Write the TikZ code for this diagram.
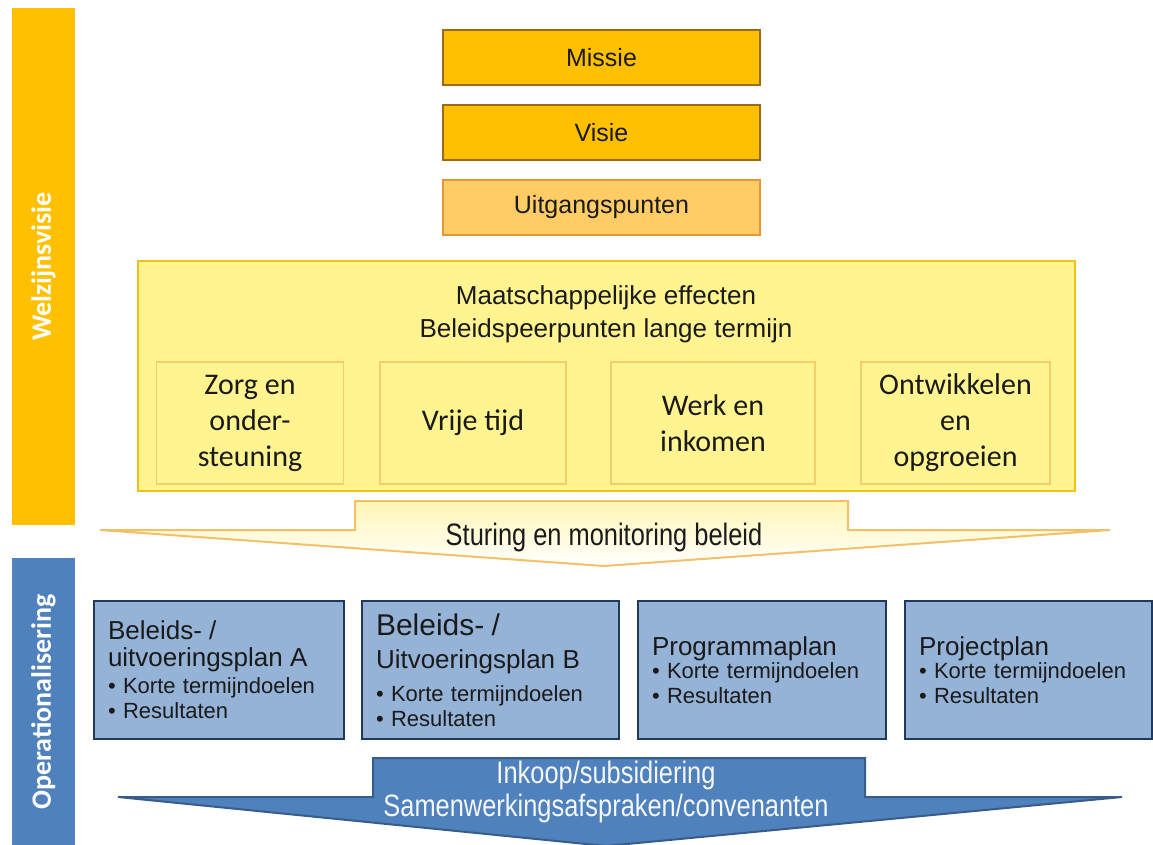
\documentclass[tikz,border=0pt]{standalone}
\usepackage{fontspec}
\setmainfont{Liberation Sans}
\newfontfamily\calfont{Carlito}
\newfontfamily\narrowfont{Liberation Sans}[FakeStretch=0.82]
\usetikzlibrary{positioning}
\definecolor{VisieOrange}{HTML}{FFC000}
\definecolor{VisieBorder}{HTML}{9C6A1E}
\definecolor{UitgangFill}{HTML}{FFCC66}
\definecolor{UitgangBorder}{HTML}{E3963A}
\definecolor{EffectFill}{HTML}{FFF48F}
\definecolor{EffectBorder}{HTML}{EDC21A}
\definecolor{ThemaBorder}{HTML}{F2CF6A}
\definecolor{SturingFill}{HTML}{FFF6B3}
\definecolor{SturingBorder}{HTML}{F3C06A}
\definecolor{OperBlue}{HTML}{4F81BD}
\definecolor{OperBorder}{HTML}{385D8A}
\definecolor{PlanFill}{HTML}{95B3D7}
\definecolor{PlanBorder}{HTML}{1F3A5C}
\definecolor{TextDark}{HTML}{1A1A1A}

\begin{document}
\begin{tikzpicture}[
        x=1pt, y=-1pt,
        font=\fontsize{25}{30}\selectfont,
        text=TextDark,
        node distance=18pt,
        sidebar/.style={rotate=90, inner sep=0pt, minimum height=63pt,
          text=white, font=\calfont\bfseries\fontsize{28}{30}\selectfont},
        topbox/.style={draw=VisieBorder, line width=2pt, fill=VisieOrange,
          minimum width=317pt, minimum height=55pt, inner sep=0pt},
        effectbox/.style={draw=EffectBorder, line width=2pt, fill=EffectFill,
          minimum width=937pt, minimum height=230pt, inner sep=0pt},
        themebox/.style={draw=ThemaBorder, line width=1.5pt, fill=EffectFill,
          minimum height=122pt, inner sep=0pt, align=center,
          font=\calfont\fontsize{30}{36}\selectfont},
        planbox/.style={draw=PlanBorder, line width=2pt, fill=PlanFill,
          minimum height=138pt, inner xsep=14pt, inner ysep=0pt,
          text width=#1, align=left, anchor=north west,
          font=\fontsize{22}{25}\selectfont},
        head/.style={}
      ]
        \useasboundingbox (0,0) rectangle (1153,844);

        % side bars
        \node[sidebar, fill=VisieOrange, minimum width=517pt] (welzijn) at (43.5,266.5) {Welzijnsvisie};
        \node[sidebar, fill=OperBlue, minimum width=288pt] (oper) at (43.5,702) {Operationalisering};

        % mission stack
        \node[topbox] (missie) at (601.5,57.5) {Missie};
        \node[topbox, below=of missie] (visie) {Visie};
        \node[topbox, below=of visie, fill=UitgangFill, draw=UitgangBorder] (uitgang) {Uitgangspunten};

        % long term effects
        \node[effectbox] (effect) at (606.5,375.5) {};
        \node[align=center, font=\fontsize{26}{33}\selectfont] (effecttitle) at (606,314)
          {Maatschappelijke effecten\\Beleidspeerpunten lange termijn};
        \node[themebox, minimum width=187pt] (zorg) at (250,423) {Zorg en\\onder-\\steuning};
        \node[themebox, minimum width=186pt] (vrije) at (473,423) {Vrije tijd};
        \node[themebox, minimum width=204pt] (werk) at (713,423) {Werk en\\inkomen};
        \node[themebox, minimum width=189pt] (ontw) at (955.5,423) {Ontwikkelen\\en\\opgroeien};

        % steering arrow
        \draw[line width=2pt, draw=SturingBorder, top color=SturingFill, bottom color=white]
          (355,501) -- (848,501) -- (848,530) -- (1110,530) -- (604,566)
          -- (100,530) -- (355,530) -- cycle;
        \node[font=\narrowfont\fontsize{31}{34}\selectfont] (sturing) at (604,537) {Sturing en monitoring beleid};

        % plans
        \node[planbox=222pt] (planA) at (93,600)
          {{\fontsize{26}{28}\selectfont Beleids- /}\\[2pt]
           {\fontsize{26}{28}\selectfont uitvoeringsplan A}\\[2pt]
           \textbullet\ Korte termijndoelen\\\textbullet\ Resultaten};
        \node[planbox=229pt, right=16pt of planA.north east, anchor=north west] (planB)
          {{\fontsize{30}{32}\selectfont Beleids- /}\\[8pt]
           {\fontsize{26}{28}\selectfont Uitvoeringsplan B}\\[8pt]
           \textbullet\ Korte termijndoelen\\\textbullet\ Resultaten};
        \node[planbox=220pt, right=17pt of planB.north east, anchor=north west] (planC)
          {{\fontsize{26}{28}\selectfont Programmaplan}\\[-2pt]
           \textbullet\ Korte termijndoelen\\\textbullet\ Resultaten};
        \node[planbox=219pt, right=17pt of planC.north east, anchor=north west] (planD)
          {{\fontsize{26}{28}\selectfont Projectplan}\\[-2pt]
           \textbullet\ Korte termijndoelen\\\textbullet\ Resultaten};

        % purchase arrow
        \draw[line width=2pt, draw=OperBorder, fill=OperBlue]
          (373,758) -- (865,758) -- (865,797) -- (1122,797) -- (606,846)
          -- (118,797) -- (373,797) -- cycle;
        \node[align=center, text=white!94!OperBlue, font=\narrowfont\fontsize{31}{33}\selectfont] (inkoop) at (606,792)
          {Inkoop/subsidiering\\Samenwerkingsafspraken/convenanten};
      \end{tikzpicture}
\end{document}
